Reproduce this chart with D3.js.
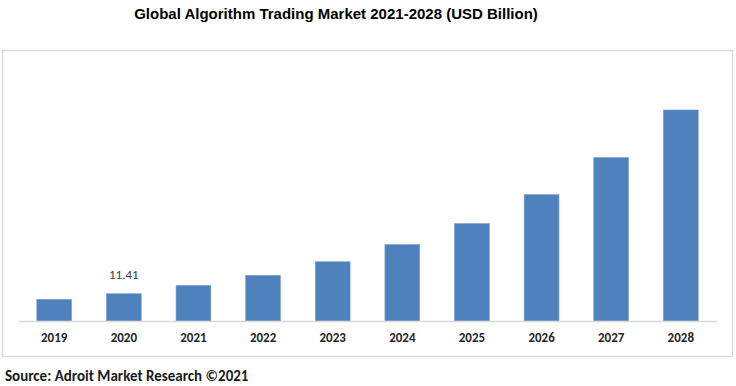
<!DOCTYPE html>
<html>
<head>
<meta charset="utf-8">
<script src="https://cdn.jsdelivr.net/npm/d3@7"></script>
<style>
  body { margin: 0; background: #fff; }
  svg { display: block; }
</style>
</head>
<body>
<svg id="chart" width="736" height="386"></svg>
<script>
// data
var years = ["2019", "2020", "2021", "2022", "2023", "2024", "2025", "2026", "2027", "2028"];
var values = [9.07, 11.41, 14.9, 19.1, 24.8, 32.0, 40.8, 52.9, 68.4, 88.3];
var labelled = ["2020"];

var svg = d3.select("#chart");

// title
svg.append("text")
    .attr("x", 336)
    .attr("y", 19)
    .attr("text-anchor", "middle")
    .style("font-family", "'Liberation Sans Narrow', 'Liberation Sans', Arial, sans-serif")
    .style("font-weight", "bold")
    .style("font-size", "15px")
    .style("fill", "#000")
    .text("Global Algorithm Trading Market 2021-2028 (USD Billion)");

// chart frame
svg.append("rect")
    .attr("x", 2.5)
    .attr("y", 50.5)
    .attr("width", 730)
    .attr("height", 306)
    .attr("fill", "#fff")
    .attr("stroke", "#d9d9d9")
    .attr("stroke-width", 1.5);

var x = d3.scaleBand()
    .domain(years)
    .range([18, 717])
    .paddingInner(0.5)
    .paddingOuter(0.27);

var y = d3.scaleLinear()
    .domain([0, 100])
    .range([321, 82]);

// bars
svg.append("g")
    .selectAll("rect")
    .data(years)
    .enter().append("rect")
    .attr("x", function (d) { return x(d); })
    .attr("y", function (d, i) { return y(values[i]); })
    .attr("width", x.bandwidth())
    .attr("height", function (d, i) { return y(0) - y(values[i]); })
    .attr("fill", "#4f81bd")
    .attr("stroke", "#7aa0d0")
    .attr("stroke-width", 0.6);

// axis
var xAxis = svg.append("g")
    .attr("transform", "translate(0," + y(0) + ")")
    .call(d3.axisBottom(x).tickSize(0).tickPadding(12));
xAxis.select(".domain").attr("stroke", "#d9d9d9").attr("stroke-width", 1.5);
xAxis.selectAll("text")
    .style("font-family", "Carlito, 'Liberation Sans', Arial, sans-serif")
    .style("font-weight", "bold")
    .style("font-size", "13px")
    .style("fill", "#262626");

// value label
svg.append("g")
    .selectAll("text")
    .data(years.filter(function (d) { return labelled.indexOf(d) >= 0; }))
    .enter().append("text")
    .attr("x", function (d) { return x(d) + x.bandwidth() / 2; })
    .attr("y", function (d) { return y(values[years.indexOf(d)]) - 15; })
    .attr("text-anchor", "middle")
    .style("font-family", "Carlito, 'Liberation Sans', Arial, sans-serif")
    .style("font-size", "13px")
    .style("fill", "#404040")
    .text(function (d) { return values[years.indexOf(d)].toFixed(2); });

// source
svg.append("text")
    .attr("x", 5)
    .attr("y", 381)
    .style("font-family", "Carlito, 'Liberation Sans', Arial, sans-serif")
    .style("font-weight", "bold")
    .style("font-size", "15px")
    .style("fill", "#1a1a1a")
    .text("Source: Adroit Market Research \u00a92021");
</script>
</body>
</html>
